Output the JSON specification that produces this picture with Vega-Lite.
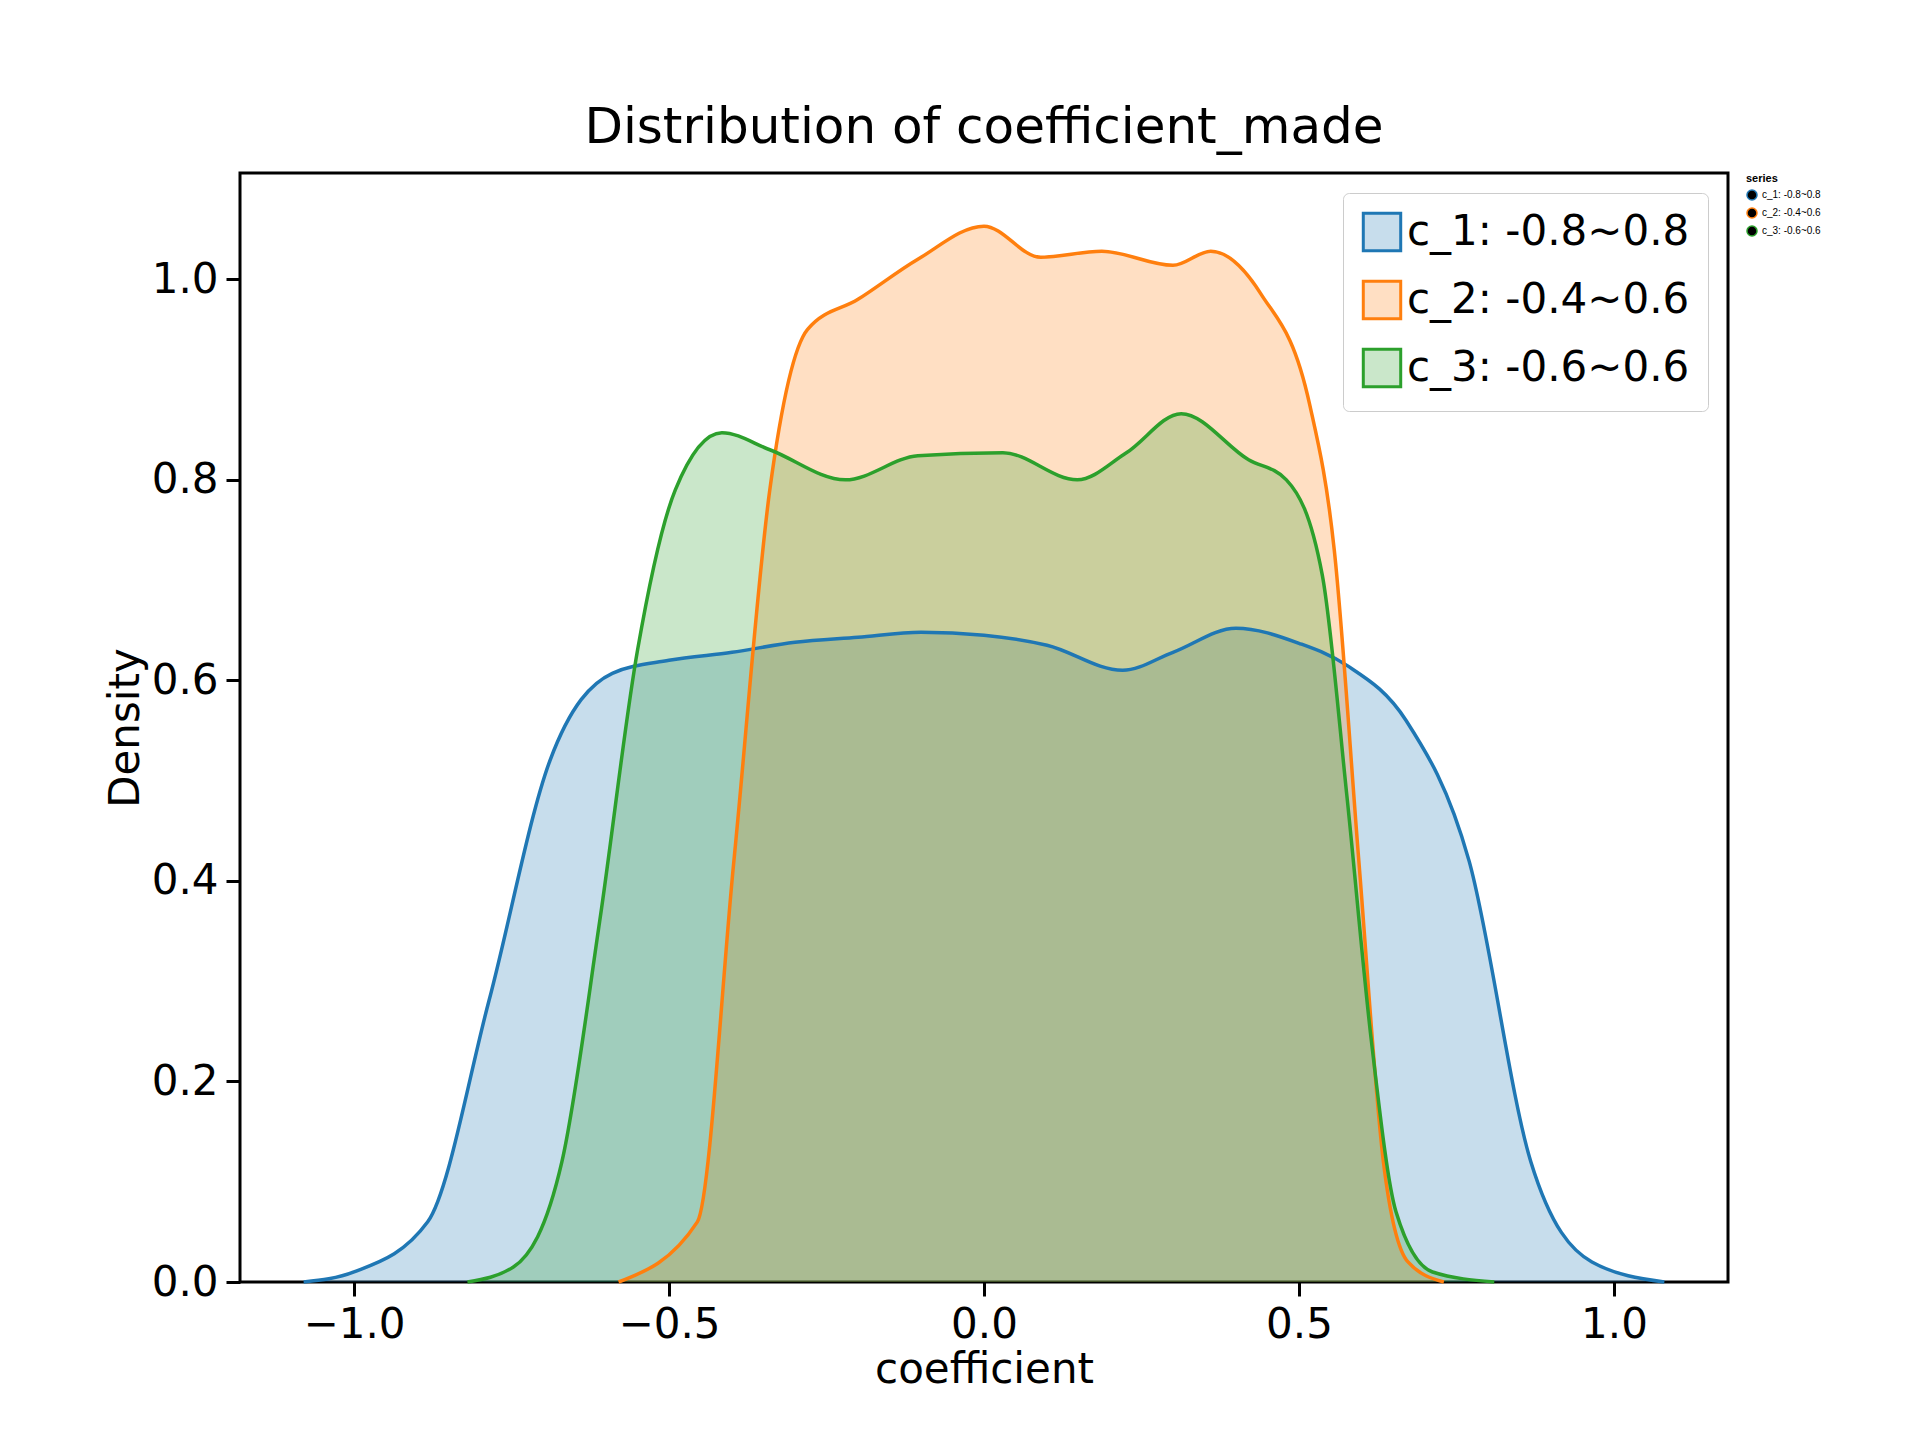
{
  "$schema": "https://vega.github.io/schema/vega-lite/v6.json",
  "autosize": "none",
  "width": 1488,
  "height": 1109,
  "padding": {"left": 240, "top": 173, "right": 192, "bottom": 158},
  "background": "white",
  "title": {"text": "Distribution of coefficient_made", "font": "DejaVu Sans", "fontSize": 50, "fontWeight": "normal", "offset": 20},
  "config": {
    "view": {"stroke": "black", "strokeWidth": 3},
    "axis": {"labelFont": "DejaVu Sans", "titleFont": "DejaVu Sans", "labelFontSize": 42, "titleFontSize": 42, "titleFontWeight": "normal", "grid": false, "domain": false, "tickColor": "black", "tickSize": 14, "tickWidth": 3, "labelColor": "black", "titleColor": "black", "labelPadding": 8}
  },
  "data": {"values": [
    {"series": "c_1: -0.8~0.8", "x": -1.08, "y": 0},
    {"series": "c_1: -0.8~0.8", "x": -1.0, "y": 0.01},
    {"series": "c_1: -0.8~0.8", "x": -0.883, "y": 0.06},
    {"series": "c_1: -0.8~0.8", "x": -0.786, "y": 0.28},
    {"series": "c_1: -0.8~0.8", "x": -0.689, "y": 0.52},
    {"series": "c_1: -0.8~0.8", "x": -0.59, "y": 0.607},
    {"series": "c_1: -0.8~0.8", "x": -0.5, "y": 0.62},
    {"series": "c_1: -0.8~0.8", "x": -0.4, "y": 0.628},
    {"series": "c_1: -0.8~0.8", "x": -0.3, "y": 0.638},
    {"series": "c_1: -0.8~0.8", "x": -0.2, "y": 0.643},
    {"series": "c_1: -0.8~0.8", "x": -0.1, "y": 0.648},
    {"series": "c_1: -0.8~0.8", "x": 0.0, "y": 0.645},
    {"series": "c_1: -0.8~0.8", "x": 0.1, "y": 0.635},
    {"series": "c_1: -0.8~0.8", "x": 0.22, "y": 0.61},
    {"series": "c_1: -0.8~0.8", "x": 0.3, "y": 0.628},
    {"series": "c_1: -0.8~0.8", "x": 0.4, "y": 0.652},
    {"series": "c_1: -0.8~0.8", "x": 0.5, "y": 0.637},
    {"series": "c_1: -0.8~0.8", "x": 0.576, "y": 0.615},
    {"series": "c_1: -0.8~0.8", "x": 0.67, "y": 0.56},
    {"series": "c_1: -0.8~0.8", "x": 0.77, "y": 0.42},
    {"series": "c_1: -0.8~0.8", "x": 0.868, "y": 0.12},
    {"series": "c_1: -0.8~0.8", "x": 0.965, "y": 0.02},
    {"series": "c_1: -0.8~0.8", "x": 1.08, "y": 0},
    {"series": "c_2: -0.4~0.6", "x": -0.58, "y": 0},
    {"series": "c_2: -0.4~0.6", "x": -0.455, "y": 0.06},
    {"series": "c_2: -0.4~0.6", "x": -0.397, "y": 0.42},
    {"series": "c_2: -0.4~0.6", "x": -0.34, "y": 0.79},
    {"series": "c_2: -0.4~0.6", "x": -0.28, "y": 0.95},
    {"series": "c_2: -0.4~0.6", "x": -0.2, "y": 0.98},
    {"series": "c_2: -0.4~0.6", "x": -0.105, "y": 1.02},
    {"series": "c_2: -0.4~0.6", "x": 0.0, "y": 1.053},
    {"series": "c_2: -0.4~0.6", "x": 0.09, "y": 1.022},
    {"series": "c_2: -0.4~0.6", "x": 0.187, "y": 1.028},
    {"series": "c_2: -0.4~0.6", "x": 0.3, "y": 1.014},
    {"series": "c_2: -0.4~0.6", "x": 0.36, "y": 1.028},
    {"series": "c_2: -0.4~0.6", "x": 0.44, "y": 0.985},
    {"series": "c_2: -0.4~0.6", "x": 0.517, "y": 0.875},
    {"series": "c_2: -0.4~0.6", "x": 0.556, "y": 0.73},
    {"series": "c_2: -0.4~0.6", "x": 0.595, "y": 0.42},
    {"series": "c_2: -0.4~0.6", "x": 0.634, "y": 0.12},
    {"series": "c_2: -0.4~0.6", "x": 0.673, "y": 0.02},
    {"series": "c_2: -0.4~0.6", "x": 0.73, "y": 0},
    {"series": "c_3: -0.6~0.6", "x": -0.82, "y": 0},
    {"series": "c_3: -0.6~0.6", "x": -0.747, "y": 0.015},
    {"series": "c_3: -0.6~0.6", "x": -0.67, "y": 0.12},
    {"series": "c_3: -0.6~0.6", "x": -0.61, "y": 0.36},
    {"series": "c_3: -0.6~0.6", "x": -0.55, "y": 0.63},
    {"series": "c_3: -0.6~0.6", "x": -0.49, "y": 0.79},
    {"series": "c_3: -0.6~0.6", "x": -0.416, "y": 0.847},
    {"series": "c_3: -0.6~0.6", "x": -0.34, "y": 0.83},
    {"series": "c_3: -0.6~0.6", "x": -0.22, "y": 0.8},
    {"series": "c_3: -0.6~0.6", "x": -0.105, "y": 0.824},
    {"series": "c_3: -0.6~0.6", "x": 0.03, "y": 0.827},
    {"series": "c_3: -0.6~0.6", "x": 0.148, "y": 0.8},
    {"series": "c_3: -0.6~0.6", "x": 0.226, "y": 0.827},
    {"series": "c_3: -0.6~0.6", "x": 0.313, "y": 0.866},
    {"series": "c_3: -0.6~0.6", "x": 0.42, "y": 0.82},
    {"series": "c_3: -0.6~0.6", "x": 0.48, "y": 0.8},
    {"series": "c_3: -0.6~0.6", "x": 0.537, "y": 0.705},
    {"series": "c_3: -0.6~0.6", "x": 0.576, "y": 0.485},
    {"series": "c_3: -0.6~0.6", "x": 0.615, "y": 0.24},
    {"series": "c_3: -0.6~0.6", "x": 0.654, "y": 0.07},
    {"series": "c_3: -0.6~0.6", "x": 0.712, "y": 0.01},
    {"series": "c_3: -0.6~0.6", "x": 0.81, "y": 0}
  ]},
  "encoding": {
    "x": {"field": "x", "type": "quantitative", "title": "coefficient", "scale": {"domain": [-1.181, 1.181], "nice": false, "zero": false}, "axis": {"values": [-1.0, -0.5, 0.0, 0.5, 1.0], "format": ".1f"}},
    "y": {"field": "y", "type": "quantitative", "title": "Density", "stack": null, "scale": {"domain": [0, 1.106], "nice": false}, "axis": {"values": [0, 0.2, 0.4, 0.6, 0.8, 1.0], "format": ".1f"}},
    "color": {"field": "series", "type": "nominal", "scale": {"range": ["#1f77b4", "#ff7f0e", "#2ca02c"]},
      "legend": {"title": null, "orient": "top-right", "offset": 20, "labelFont": "DejaVu Sans", "labelFontSize": 42, "labelLimit": 0, "symbolType": "square", "symbolSize": 1400, "symbolStrokeWidth": 3, "rowPadding": 18, "padding": 18, "fillColor": "rgba(255,255,255,0.8)", "strokeColor": "#cccccc", "cornerRadius": 6,
        "encode": {"symbols": {"update": {"fillOpacity": {"value": 0.25}, "strokeOpacity": {"value": 1}, "opacity": {"value": 1}}}}}}
  },
  "layer": [
    {"mark": {"type": "area", "interpolate": "monotone", "fillOpacity": 0.25}, "encoding": {"stroke": {"field": "series", "type": "nominal", "scale": {"range": ["#1f77b4", "#ff7f0e", "#2ca02c"]}}, "strokeOpacity": {"value": 0}}},
    {"mark": {"type": "line", "interpolate": "monotone", "strokeWidth": 3.5}}
  ]
}
